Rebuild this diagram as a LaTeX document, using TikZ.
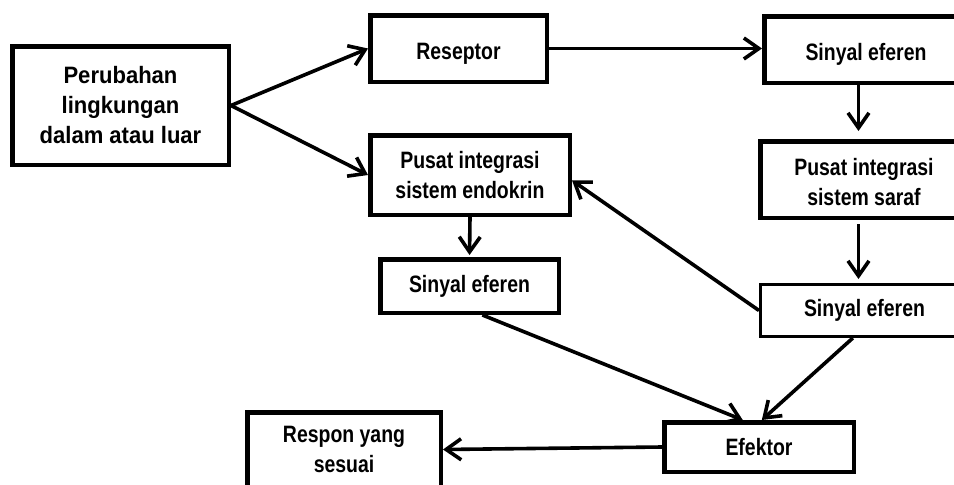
\documentclass[tikz,border=0pt]{standalone}
\usepackage{fontspec}
\usetikzlibrary{arrows.meta}
\newfontfamily\lblfont[FakeStretch=0.82]{Liberation Sans}
\newfontfamily\lblwidefont[FakeStretch=0.93]{Liberation Sans}
% shift text ink down without changing the box it occupies
\newcommand{\lowered}[2]{\raisebox{-#1}[\height][\depth]{#2}}
\tikzset{
  box/.style={draw=black, line width=4.5pt, fill=white, align=center, inner sep=0pt,
    font=\lblfont\bfseries\fontsize{23.7}{30}\selectfont},
  thinbox/.style={box, line width=3pt},
  arr/.style={draw=black, line width=3.6pt,
    -{Straight Barb[length=15pt,width=21pt,line width=3.6pt]}}
}
\begin{document}
\begin{tikzpicture}[x=1pt,y=-1pt]
  \useasboundingbox (0,0) rectangle (954,485);
  \clip (0,0) rectangle (954,485);

  % boxes
  \node[box, minimum width=216.5pt, minimum height=118.5pt,
        font=\lblwidefont\bfseries\fontsize{23.7}{30}\selectfont]
       (per) at (120.5,105.5) {Perubahan\\lingkungan\\dalam atau luar};
  \node[box, minimum width=176.5pt, minimum height=66.5pt] (res) at (458.5,48.5) {\lowered{5pt}{Reseptor}};
  \node[box, minimum width=203.5pt, minimum height=66.5pt] (se1) at (866,49.5) {\lowered{5pt}{Sinyal eferen}};
  \node[box, minimum width=199.5pt, minimum height=79.5pt] (pie) at (470,175) {Pusat integrasi\\sistem endokrin};
  \node[box, minimum width=207.5pt, minimum height=76.5pt] (pis) at (864,179.5) {\lowered{3pt}{Pusat integrasi}\\\lowered{3pt}{sistem saraf}};
  \node[box, minimum width=178.5pt, minimum height=53.5pt] (se2) at (469.5,286) {Sinyal eferen};
  \node[thinbox, minimum width=208pt, minimum height=52pt] (se3) at (864.5,310.5) {Sinyal eferen};
  \node[box, minimum width=189.5pt, minimum height=49.5pt] (ef) at (759,447) {Efektor};
  \node[box, minimum width=193.5pt, minimum height=74.5pt] (rsp) at (344,449.5) {Respon yang\\sesuai};

  % x position of the right-hand vertical arrows
  \coordinate (colR) at (858.5,0);

  % connectors
  \draw[arr] (per.east) -- (res.west);
  \draw[arr] (per.east) -- (pie.west);
  \draw[arr] (res.east) -- (res.east -| se1.west);
  \draw[arr, shorten >=8pt] (se1.south -| colR) -- (pis.north -| colR);
  \draw[arr, shorten >=2pt] (pie.south) -- (se2.north);
  \draw[arr, shorten <=4pt, shorten >=4pt] (pis.south -| colR) -- (se3.north -| colR);
  \draw[arr] (se3.west) -- (pie.-3.5);
  \draw[arr] (se2.-66) -- (ef.121);
  \draw[arr] (se3.-113) -- (ef.84);
  \draw[arr] (ef.west) -- (rsp.east);
\end{tikzpicture}
\end{document}
